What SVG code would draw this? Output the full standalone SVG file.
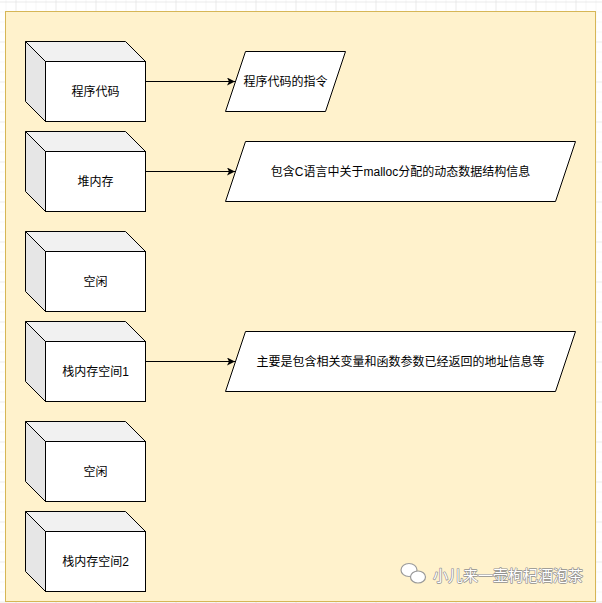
<svg xmlns="http://www.w3.org/2000/svg" width="602" height="603" viewBox="0 0 602 603">
<defs>
<pattern id="minor" width="10" height="10" patternUnits="userSpaceOnUse" x="5.5" y="1.5">
<path d="M0 0H10M0 0V10" fill="none" stroke="#f0f0f0" stroke-width="1"/>
</pattern>
<pattern id="major" width="40" height="40" patternUnits="userSpaceOnUse" x="15.5" y="1.5">
<path d="M0 0H40M0 0V40" fill="none" stroke="#e2e2e2" stroke-width="1"/>
</pattern>
<marker id="arr" viewBox="0 0 10 10" refX="10" refY="5" markerWidth="8" markerHeight="8" markerUnits="userSpaceOnUse" orient="auto">
<path d="M0 0L10 5L0 10L2.5 5Z" fill="#000"/>
</marker>
<g id="cubeShape">
<path d="M0 0H100L120 20V80H20L0 60Z" fill="#fff" stroke="none"/>
<path d="M0 0H100L120 20H20Z" fill="#f1f1f1" stroke="#000"/>
<path d="M0 0L20 20V80L0 60Z" fill="#e6e6e6" stroke="#000"/>
<rect x="20" y="20" width="100" height="60" fill="#fff" stroke="#000"/>
</g>
</defs>
<style>
text{font-family:"Liberation Sans","Noto Sans CJK SC",sans-serif;font-size:12px;fill:#000;text-anchor:middle;dominant-baseline:central}
.par{fill:#fff;stroke:#000;stroke-width:1}
.edge{fill:none;stroke:#000;stroke-width:1}
.wm{font-size:15px;fill:#fff;stroke:#8f8f8f;stroke-width:1.3;paint-order:stroke;text-anchor:start;stroke-linejoin:round}
</style>
<rect width="602" height="603" fill="#fff"/>
<rect width="602" height="603" fill="url(#minor)"/>
<rect width="602" height="603" fill="url(#major)"/>
<rect x="5.5" y="11.5" width="590" height="590" fill="#fff2cc" stroke="#d6b656"/>

<g id="cube1"><use href="#cubeShape" x="25.5" y="41.5"/><text x="95.5" y="91.5">程序代码</text></g>
<g id="cube2"><use href="#cubeShape" x="25.5" y="131.5"/><text x="95.5" y="181.5">堆内存</text></g>
<g id="cube3"><use href="#cubeShape" x="25.5" y="231.5"/><text x="95.5" y="281.5">空闲</text></g>
<g id="cube4"><use href="#cubeShape" x="25.5" y="321.5"/><text x="95.5" y="371.5">栈内存空间1</text></g>
<g id="cube5"><use href="#cubeShape" x="25.5" y="421.5"/><text x="95.5" y="471.5">空闲</text></g>
<g id="cube6"><use href="#cubeShape" x="25.5" y="511.5"/><text x="95.5" y="561.5">栈内存空间2</text></g>

<g id="para1"><path class="par" d="M245.5 51.5H345.5L325.5 111.5H225.5Z"/><text x="285.5" y="81.5">程序代码的指令</text></g>
<g id="para2"><path class="par" d="M245.5 141.5H575.5L555.5 201.5H225.5Z"/><text x="400.5" y="171.5">包含C语言中关于malloc分配的动态数据结构信息</text></g>
<g id="para3"><path class="par" d="M245.5 331.5H575.5L555.5 391.5H225.5Z"/><text x="400.5" y="361.5">主要是包含相关变量和函数参数已经返回的地址信息等</text></g>

<g id="edges">
<path class="edge" d="M145.5 81.5H235" marker-end="url(#arr)"/>
<path class="edge" d="M145.5 171.5H235" marker-end="url(#arr)"/>
<path class="edge" d="M145.5 361.5H235" marker-end="url(#arr)"/>
</g>

<g id="watermark">
<ellipse cx="409" cy="570" rx="8" ry="6.5" fill="#fff" stroke="#9a9a9a" stroke-width="1.2"/>
<ellipse cx="418" cy="577" rx="7.5" ry="6" fill="#fff" stroke="#9a9a9a" stroke-width="1.2"/>
<text class="wm" x="433" y="575">小儿来一壶枸杞酒泡茶</text>
</g>
</svg>
